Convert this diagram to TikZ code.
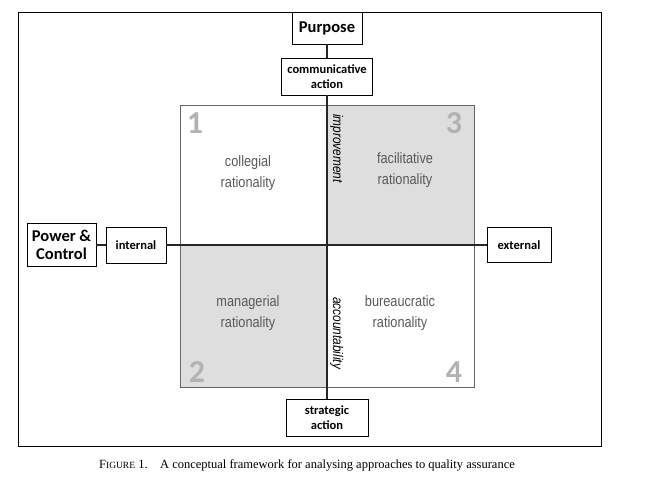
\documentclass[tikz,border=0pt]{standalone}
\usepackage{fontspec}
\setmainfont{Liberation Serif}
\newfontfamily\boxfont{Carlito}
\newfontfamily\quadfont{Liberation Sans}
\begin{document}
\begin{tikzpicture}[x=1pt,y=-1pt,
  lbl/.style={draw=black,fill=white,line width=0.8pt,font=\boxfont\bfseries\fontsize{12.5}{15}\selectfont,align=center,inner sep=0pt},
  big/.style={lbl,font=\boxfont\bfseries\fontsize{16.5}{18}\selectfont},
  axis/.style={line width=2.6pt,black!85},
  quad/.style={font=\quadfont\fontsize{15}{21}\selectfont,text=black!65,align=center,xscale=0.85},
  num/.style={font=\boxfont\bfseries\fontsize{32}{32}\selectfont,text=black!30},
  rot/.style={font=\quadfont\itshape\fontsize{14}{15}\selectfont,rotate=-90,anchor=south west,inner sep=1pt,xscale=0.85}]
\useasboundingbox (0,0) rectangle (649,484);
\draw[line width=0.8pt] (18,12) rectangle (601,446);
\fill[black!13] (327,105) rectangle (474,245);
\fill[black!13] (180,245) rectangle (327,387);
\draw[black!60,line width=0.8pt] (180,105) rectangle (474,387);
\node[num] at (195,123) {1};
\node[num] at (454,123) {3};
\node[num] at (197,372) {2};
\node[num] at (454,372) {4};
\node[quad] at (248,173) {collegial\\rationality};
\node[quad] at (405,170) {facilitative\\rationality};
\node[quad] at (248,313) {managerial\\rationality};
\node[quad] at (400,313) {bureaucratic\\rationality};
\node[big,minimum width=70pt,minimum height=32pt] (purpose) at (327,28) {Purpose};
\node[lbl,minimum width=91pt,minimum height=37pt] (comm) at (327,76.5) {communicative\\action};
\node[lbl,minimum width=82pt,minimum height=37pt] (strat) at (327,417.5) {strategic\\action};
\node[big,minimum width=69pt,minimum height=43pt] (power) at (61.5,245) {Power \&\\Control};
\node[lbl,minimum width=60pt,minimum height=36pt] (int) at (136,245) {internal};
\node[lbl,minimum width=64pt,minimum height=35pt] (ext) at (519,245) {external};
\draw[axis] (purpose.south) -- (comm.north);
\draw[axis] (comm.south) -- (strat.north);
\draw[axis] (power.east) -- (int.west);
\draw[axis] (int.east) -- (ext.west);
\node[rot] at (329,113) {improvement};
\node[rot] at (329,296) {accountability};
\node[font=\fontsize{12.5}{14}\selectfont] at (307,465) {F{\fontsize{9.5}{11}\selectfont IGURE} 1.\quad A conceptual framework for analysing approaches to quality assurance};
\end{tikzpicture}
\end{document}
